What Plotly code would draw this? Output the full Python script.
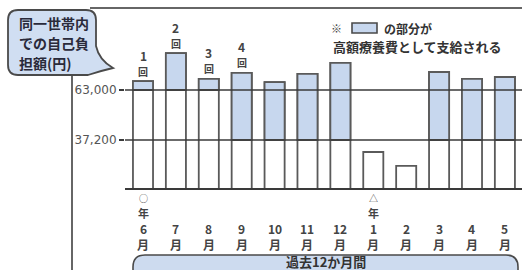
import plotly.graph_objects as go

W, H = 522, 270

months = ["6月", "7月", "8月", "9月", "10月", "11月", "12月", "1月", "2月", "3月", "4月", "5月"]
month_nums = ["6", "7", "8", "9", "10", "11", "12", "1", "2", "3", "4", "5"]
year_marks = ["○", "", "", "", "", "", "", "△", "", "", "", ""]
values = [67600, 82000, 68700, 71800, 67100, 71300, 77000, 31000, 23800, 72300, 68700, 69700]
thresholds = [63000, 63000, 63000, 37200, 37200, 37200, 37200, 37200, 37200, 37200, 37200, 37200]
count_labels = ["1", "2", "3", "4", "", "", "", "", "", "", "", ""]
tick_vals = [37200, 63000]
tick_text = ["37,200", "63,000"]

BLUE = "#c7d7ee"
EDGE = "#5a5a5a"
DARK = "#3a3a3a"
JP = "Noto Sans CJK JP"


def px(x):
    return x / W


def py(y):
    return 1 - y / H


def P(x, y):
    return f"{px(x):.5f},{py(y):.5f}"


blue_h = [v - t if v > t else None for v, t in zip(values, thresholds)]
blue_base = [t if v > t else None for v, t in zip(values, thresholds)]

fig = go.Figure()
fig.add_trace(go.Bar(x=months, y=values, width=0.61,
                     marker=dict(color="white", line=dict(color=EDGE, width=1.8)),
                     hoverinfo="skip"))
fig.add_trace(go.Bar(x=months, y=blue_h, base=blue_base, width=0.61,
                     marker=dict(color=BLUE, line=dict(color=EDGE, width=1.8)),
                     hoverinfo="skip"))

shapes = []
# horizontal reference lines
for tv in tick_vals:
    shapes.append(dict(type="line", xref="paper", yref="y", x0=px(125), x1=1, y0=tv, y1=tv,
                       line=dict(color=DARK, width=1.6), layer="above"))
# top rule
shapes.append(dict(type="line", xref="paper", yref="paper", x0=px(90), x1=1, y0=py(8), y1=py(8),
                   line=dict(color="#666", width=2)))
# vertical rule
shapes.append(dict(type="line", xref="paper", yref="paper", x0=px(72), x1=px(72), y0=py(75), y1=py(272),
                   line=dict(color="#666", width=2)))
# callout bubble
path = ("M " + P(18, 10) + " L " + P(86, 10) + " Q " + P(96, 10) + " " + P(96, 20) +
        " L " + P(96, 46) + " Q " + P(99, 60) + " " + P(113, 68) +
        " Q " + P(100, 71) + " " + P(88, 75) + " L " + P(18, 75) +
        " Q " + P(8, 75) + " " + P(8, 65) + " L " + P(8, 20) + " Q " + P(8, 10) + " " + P(18, 10) + " Z")
shapes.append(dict(type="path", xref="paper", yref="paper", path=path,
                   fillcolor="#d0def2", line=dict(color="#4a4a4a", width=1.8)))
# bottom period bar
path2 = ("M " + P(145, 255) + " L " + P(506, 255) + " Q " + P(518, 255) + " " + P(518, 267) +
         " L " + P(518, 290) + " L " + P(133, 290) + " L " + P(133, 267) +
         " Q " + P(133, 255) + " " + P(145, 255) + " Z")
shapes.append(dict(type="path", xref="paper", yref="paper", path=path2,
                   fillcolor="#cddbef", line=dict(color="#4a4a4a", width=1.6)))
# legend swatch
shapes.append(dict(type="rect", xref="paper", yref="paper", x0=px(352), x1=px(377), y0=py(33), y1=py(23),
                   fillcolor=BLUE, line=dict(color="#4a4a4a", width=1.6)))

annotations = []


def ann(**kw):
    kw.setdefault("showarrow", False)
    kw.setdefault("yanchor", "middle")
    kw.setdefault("xanchor", "center")
    annotations.append(kw)


for i, line in enumerate(["同一世帯内", "での自己負", "担額(円)"]):
    ann(xref="paper", yref="paper", x=px(17), y=py(23 + 20 * i), xanchor="left",
        text=f"<b>{line}</b>", font=dict(family=JP, size=14, color="#2a2a3a"))
# legend note
ann(xref="paper", yref="paper", x=px(336), y=py(28), text="<b>※</b>",
    font=dict(family=JP, size=11, color="#444"))
ann(xref="paper", yref="paper", x=px(382), y=py(28), xanchor="left", text="<b>の部分が</b>",
    font=dict(family=JP, size=12, color="#333"))
ann(xref="paper", yref="paper", x=px(331), y=py(47), xanchor="left",
    text="<b>高額療養費として支給される</b>", font=dict(family=JP, size=13, color="#333"))
# count labels above bars
for m, v, c in zip(months, values, count_labels):
    if c:
        ann(x=m, y=v, xref="x", yref="y", text=f"<b>{c}</b>", yshift=26,
            font=dict(family=JP, size=12, color="#444"))
        ann(x=m, y=v, xref="x", yref="y", text="<b>回</b>", yshift=10,
            font=dict(family=JP, size=10, color="#444"))
# month labels
for m, ym, n in zip(months, year_marks, month_nums):
    if ym:
        ann(x=m, xref="x", yref="paper", y=py(198), text=ym,
            font=dict(family=JP, size=9, color="#444"))
        ann(x=m, xref="x", yref="paper", y=py(213), text="<b>年</b>",
            font=dict(family=JP, size=11, color="#444"))
    ann(x=m, xref="x", yref="paper", y=py(228), text=f"<b>{n}</b>",
        font=dict(family="Liberation Sans Narrow, Noto Sans CJK JP", size=12, color="#444"))
    ann(x=m, xref="x", yref="paper", y=py(244), text="<b>月</b>",
        font=dict(family=JP, size=12, color="#444"))
ann(xref="paper", yref="paper", x=px(326), y=py(261), text="<b>過去12か月間</b>",
    font=dict(family=JP, size=13, color="#333"))

fig.update_layout(
    width=W, height=H, margin=dict(l=0, r=0, t=0, b=0),
    paper_bgcolor="white", plot_bgcolor="white",
    barmode="overlay", showlegend=False,
    shapes=shapes, annotations=annotations,
    xaxis=dict(domain=[px(125), 1], range=[-0.547, 11.52], showticklabels=False, ticks="",
               showgrid=False, zeroline=False, showline=True, linecolor=DARK, linewidth=2, fixedrange=True),
    yaxis=dict(domain=[py(188), py(8)], range=[12432, 105312], tickvals=tick_vals, ticktext=tick_text,
               ticks="outside", ticklen=5, tickwidth=1.5, tickcolor=DARK, showgrid=False, zeroline=False,
               showline=False, tickfont=dict(family="DejaVu Sans", size=12, color="#555"), fixedrange=True),
)

fig.write_html("out.html", config={"displayModeBar": False},
               post_script="document.body.style.margin='0';document.body.style.padding='0';")
